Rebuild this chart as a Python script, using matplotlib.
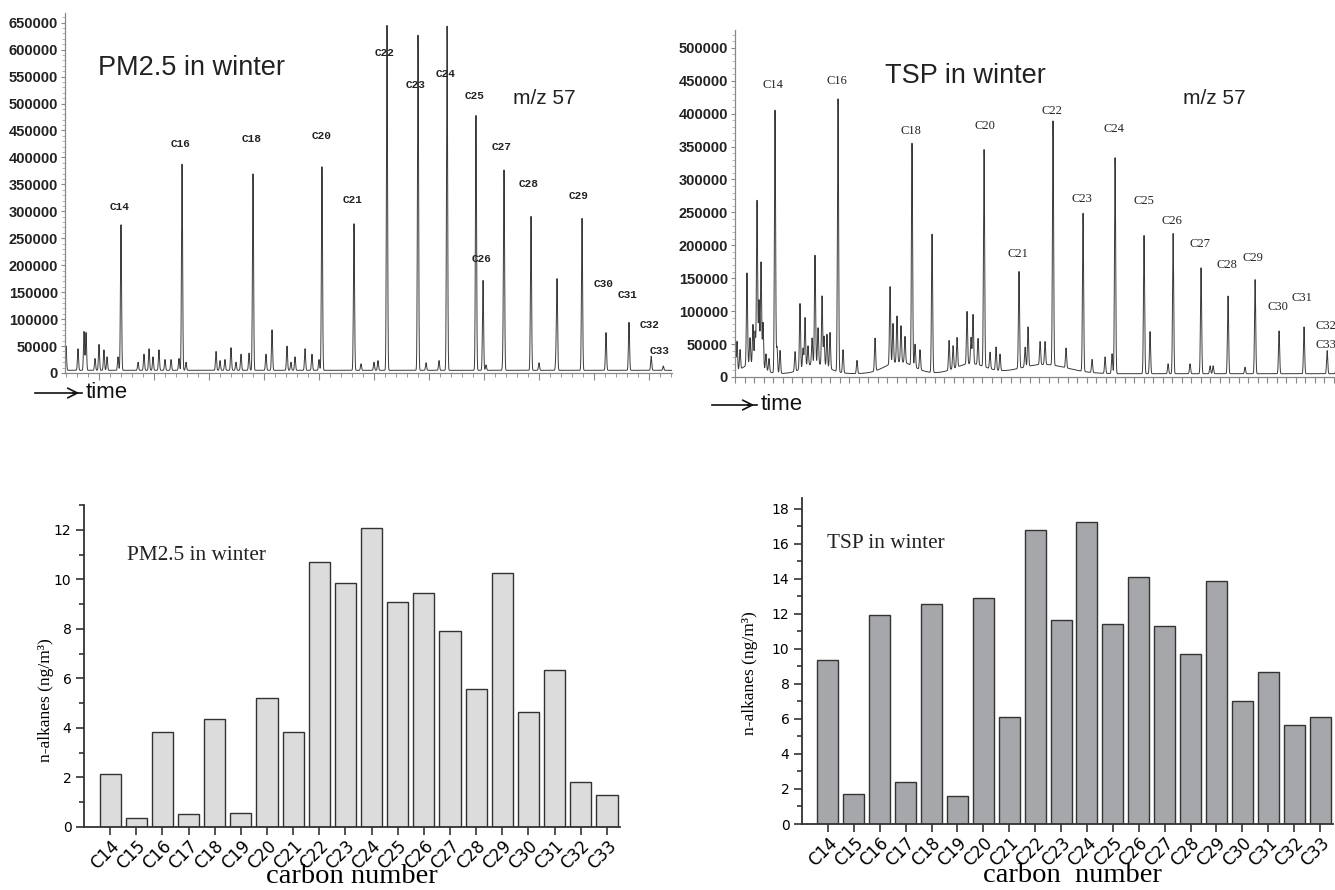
import numpy as np
import matplotlib.pyplot as plt
from matplotlib.ticker import MultipleLocator

plt.rcParams['font.family'] = 'Liberation Sans'

# ---- bar chart data (ng/m3) ----
carbon = ['C14', 'C15', 'C16', 'C17', 'C18', 'C19', 'C20', 'C21', 'C22', 'C23',
          'C24', 'C25', 'C26', 'C27', 'C28', 'C29', 'C30', 'C31', 'C32', 'C33']
pm25_conc = [2.12, 0.37, 3.85, 0.52, 4.35, 0.55, 5.2, 3.83, 10.7, 9.87,
             12.09, 9.08, 9.44, 7.93, 5.58, 10.25, 4.65, 6.33, 1.83, 1.28]
tsp_conc = [9.33, 1.73, 11.9, 2.38, 12.53, 1.6, 12.91, 6.08, 16.76, 11.66,
            17.24, 11.41, 14.08, 11.31, 9.68, 13.85, 6.99, 8.7, 5.66, 6.08]

# ---- PM2.5 chromatogram (m/z 57), retention time in min ----
pm_peak_lab = ['C14', 'C16', 'C18', 'C20', 'C21', 'C22', 'C23', 'C24', 'C25', 'C26',
               'C27', 'C28', 'C29', 'C30', 'C31', 'C32', 'C33']
pm_peak_t = [12.0, 17.55, 24.0, 30.27, 33.18, 36.18, 39.0, 41.64, 44.27, 44.91,
             46.82, 49.27, 53.91, 56.09, 58.18, 60.2, 61.3]
pm_peak_h = [270000, 383000, 365000, 378000, 272000, 640000, 622000, 640000, 473000, 167000,
             368000, 286000, 282000, 70000, 89000, 26000, 8000]
pm_lab_t = [11.91, 17.45, 23.91, 30.27, 33.09, 36.0, 38.82, 41.55, 44.18, 44.82,
            46.64, 49.09, 53.64, 55.91, 58.09, 60.09, 61.0]
pm_lab_y = [308000, 425000, 434000, 440000, 321000, 594000, 535000, 555000, 514000, 212000,
            420000, 351000, 329000, 165000, 145000, 89000, 41000]
pm_minor_t = [7.0, 8.09, 8.64, 8.82, 9.64, 10.0, 10.45, 10.73, 11.73, 13.55,
              14.09, 14.55, 14.91, 15.45, 16.0, 16.55, 17.27, 17.91, 20.64, 21.0,
              21.45, 22.0, 22.45, 22.91, 23.64, 25.18, 25.73, 27.09, 27.45, 27.82,
              28.73, 29.36, 30.0, 33.82, 35.0, 35.36, 39.73, 40.91, 45.18, 46.73,
              50.0, 51.55, 51.64]
pm_minor_h = [45000, 40000, 72000, 70000, 22000, 48000, 38000, 25000, 25000, 15000,
              30000, 40000, 25000, 38000, 20000, 20000, 22000, 15000, 35000, 18000,
              20000, 42000, 15000, 30000, 32000, 30000, 75000, 45000, 15000, 25000,
              40000, 30000, 20000, 12000, 15000, 18000, 14000, 18000, 10000, 20000,
              14000, 25000, 165000]

# ---- TSP chromatogram (m/z 57) ----
tsp_peak_lab = pm_peak_lab
tsp_peak_t = [9.21, 15.84, 23.63, 31.21, 34.89, 38.47, 41.63, 45.0, 48.05, 51.11,
              54.05, 56.89, 59.74, 62.26, 64.89, 67.32, 68.3]
tsp_peak_h = [400000, 415000, 338000, 330000, 147000, 371000, 240000, 328000, 210000, 213000,
              161000, 118000, 143000, 65000, 71000, 35000, 20000]
tsp_lab_t = [9.0, 15.74, 23.53, 31.32, 34.79, 38.37, 41.53, 44.89, 48.05, 51.0,
             53.95, 56.79, 59.53, 62.16, 64.68, 67.2, 67.2]
tsp_lab_y = [444000, 450000, 374000, 381000, 187000, 404000, 270000, 377000, 267000, 237000,
             202000, 170000, 181000, 106000, 120000, 77000, 49000]
tsp_minor_t = [5.0, 5.21, 5.53, 6.26, 6.58, 6.89, 7.11, 7.32, 7.53, 7.74,
               7.95, 8.26, 8.58, 9.42, 9.74, 11.32, 11.84, 12.16, 12.37, 12.68,
               13.11, 13.42, 13.74, 14.16, 14.37, 14.68, 15.0, 16.37, 17.84, 19.74,
               21.32, 21.63, 22.05, 22.47, 22.89, 23.95, 24.47, 25.74, 27.53, 27.95,
               28.37, 29.42, 29.84, 30.05, 30.58, 31.84, 32.47, 32.89, 35.53, 35.84,
               37.11, 37.63, 39.84, 42.58, 43.95, 44.68, 48.68, 50.58, 52.89, 55.0,
               55.32, 58.68]
tsp_minor_h = [55000, 45000, 30000, 140000, 40000, 60000, 50000, 250000, 100000, 160000,
               70000, 25000, 20000, 40000, 35000, 30000, 100000, 30000, 75000, 30000,
               40000, 165000, 55000, 105000, 45000, 50000, 55000, 35000, 20000, 50000,
               118000, 60000, 70000, 55000, 40000, 35000, 30000, 210000, 45000, 35000,
               45000, 80000, 40000, 75000, 40000, 25000, 35000, 25000, 30000, 60000,
               35000, 35000, 30000, 20000, 25000, 30000, 64000, 15000, 15000, 12000,
               12000, 10000]
# broad unresolved humps: centre (min), height, width (min)
tsp_hump_t = [6.8, 13.5, 22.3, 29.8, 37.5]
tsp_hump_h = [15000, 15000, 18000, 15000, 14000]
tsp_hump_w = [1.0, 1.3, 1.5, 1.6, 2.5]

W, H = 1335, 890


def fx(px):
    return px / W


def fy(py):
    return 1 - py / H


def build_trace(t, centres, heights, sigma, base=5000):
    sig = np.full_like(t, base, dtype=float)
    for c, h in zip(centres, heights):
        sig += h * np.exp(-0.5 * ((t - c) / sigma) ** 2)
    return sig


def style_chrom(ax, xlim, ylim, ytop):
    ax.set_xlim(*xlim)
    ax.set_ylim(*ylim)
    for s in ['top', 'right']:
        ax.spines[s].set_visible(False)
    for s in ['left', 'bottom']:
        ax.spines[s].set_color('#888888')
        ax.spines[s].set_linewidth(0.9)
    ax.set_yticks(np.arange(0, ytop + 1, 50000))
    ax.yaxis.set_minor_locator(MultipleLocator(10000))
    ax.tick_params(axis='y', which='major', length=3, color='#888888', labelsize=10.5,
                   labelcolor='#222222', pad=2)
    ax.tick_params(axis='y', which='minor', length=2, color='#aaaaaa')
    ax.tick_params(axis='x', which='major', length=5, color='#888888', labelbottom=False)
    ax.tick_params(axis='x', which='minor', length=3, color='#888888')
    for lab in ax.get_yticklabels():
        lab.set_fontweight('bold')


fig = plt.figure(figsize=(13.35, 8.9), dpi=100)

# ---------- top-left chromatogram ----------
ax1 = fig.add_axes([fx(65), fy(373), fx(607), 360 / H])
t1 = np.linspace(6.91, 62.09, 8000)
y1 = build_trace(t1, pm_peak_t + pm_minor_t, pm_peak_h + pm_minor_h, 0.05)
ax1.plot(t1, y1, color='#3a3a3a', lw=0.7)
style_chrom(ax1, (6.91, 62.09), (0, 668000), 650000)
ax1.xaxis.set_major_locator(MultipleLocator(5))
ax1.xaxis.set_minor_locator(MultipleLocator(1))
for lab, x, y in zip(pm_peak_lab, pm_lab_t, pm_lab_y):
    ax1.text(x, y, lab, ha='center', va='center', fontsize=8, family='Liberation Mono',
             fontweight='bold', color='#222222')

# ---------- top-right chromatogram ----------
ax2 = fig.add_axes([fx(735), fy(377), fx(610), 347 / H])
t2 = np.linspace(5.0, 69.2, 8000)
y2 = build_trace(t2, tsp_peak_t + tsp_minor_t, tsp_peak_h + tsp_minor_h, 0.06)
for c, h, w in zip(tsp_hump_t, tsp_hump_h, tsp_hump_w):
    y2 += h * np.exp(-0.5 * ((t2 - c) / w) ** 2)
ax2.plot(t2, y2, color='#3a3a3a', lw=0.7)
style_chrom(ax2, (5.0, 69.2), (0, 527000), 500000)
ax2.xaxis.set_major_locator(MultipleLocator(1))
ax2.xaxis.set_minor_locator(MultipleLocator(1))
ax2.tick_params(axis='x', which='major', length=4)
for lab, x, y in zip(tsp_peak_lab, tsp_lab_t, tsp_lab_y):
    ax2.text(x, y, lab, ha='center', va='center', fontsize=9, family='Liberation Serif',
             color='#222222', clip_on=False)

# titles and "time" arrows
fig.text(fx(98), fy(68), 'PM2.5 in winter', fontsize=19.5, va='center', color='#222222')
fig.text(fx(513), fy(98), 'm/z 57', fontsize=15, va='center', color='#222222')
fig.text(fx(885), fy(76), 'TSP in winter', fontsize=19.5, va='center', color='#222222')
fig.text(fx(1183), fy(98), 'm/z 57', fontsize=15, va='center', color='#222222')
for x0, x1, yy, xt in [(35, 82, 393, 86), (712, 757, 405, 761)]:
    fig.add_artist(plt.Line2D([fx(x0), fx(x1)], [fy(yy), fy(yy)], color='#111111', lw=1.2))
    ax1.annotate('', xy=(fx(x1), fy(yy)), xytext=(fx(x1 - 12), fy(yy)),
                 xycoords='figure fraction', textcoords='figure fraction',
                 arrowprops=dict(arrowstyle='->,head_length=0.7,head_width=0.35',
                                 lw=1.2, color='#111111'))
    fig.text(fx(xt), fy(yy), 'time', fontsize=16, va='center', color='#111111')


# ---------- bar charts ----------
def bar_panel(ax, vals, color, ylim, label_xy, inner_text, inner_xy):
    x = np.arange(len(carbon))
    ax.bar(x, vals, width=0.81, color=color, edgecolor='#333333', linewidth=1.0)
    ax.set_xlim(-1, len(carbon) - 0.5)
    ax.set_ylim(*ylim)
    for s in ['top', 'right']:
        ax.spines[s].set_visible(False)
    for s in ['left', 'bottom']:
        ax.spines[s].set_color('#333333')
        ax.spines[s].set_linewidth(1.3)
    ax.set_xticks(x)
    ax.set_xticklabels(carbon, rotation=45, ha='right', va='top', rotation_mode='anchor',
                       fontsize=12, family='DejaVu Sans')
    ax.yaxis.set_major_locator(MultipleLocator(2))
    ax.yaxis.set_minor_locator(MultipleLocator(1))
    ax.tick_params(axis='x', length=6, width=1.2, color='#333333', pad=1)
    ax.tick_params(axis='y', which='major', length=6, width=1.2, color='#333333',
                   labelsize=10, pad=3)
    ax.tick_params(axis='y', which='minor', length=3.5, width=1.2, color='#333333')
    for lab in ax.get_yticklabels():
        lab.set_family('DejaVu Sans')
    ax.text(label_xy[0], label_xy[1], 'n-alkanes (ng/m³)', rotation=90, ha='center',
            va='center', transform=ax.transAxes, fontsize=12.5, family='Liberation Serif')
    ax.text(inner_xy[0], inner_xy[1], inner_text, transform=ax.transAxes, va='center',
            fontsize=15.3, family='Liberation Serif', color='#222222')


ax3 = fig.add_axes([fx(84), fy(827), fx(536), 322 / H])
bar_panel(ax3, pm25_conc, '#dcdcdd', (0, 13.0), (-0.07, 0.394),
          'PM2.5 in winter', ((127 - 84) / 536, (827 - 556) / 322))

ax4 = fig.add_axes([fx(802), fy(824), fx(531), 326 / H])
bar_panel(ax4, tsp_conc, '#a6a7aa', (0, 18.6), (-0.098, 0.463),
          'TSP in winter', ((827 - 802) / 531, (824 - 543) / 326))

fig.text(fx(352), fy(883), 'carbon number', ha='center', va='baseline', fontsize=20.5,
         family='Liberation Serif')
fig.text(fx(1072), fy(882), 'carbon  number', ha='center', va='baseline', fontsize=20.5,
         family='Liberation Serif')

fig.savefig('out.png', dpi=100)
